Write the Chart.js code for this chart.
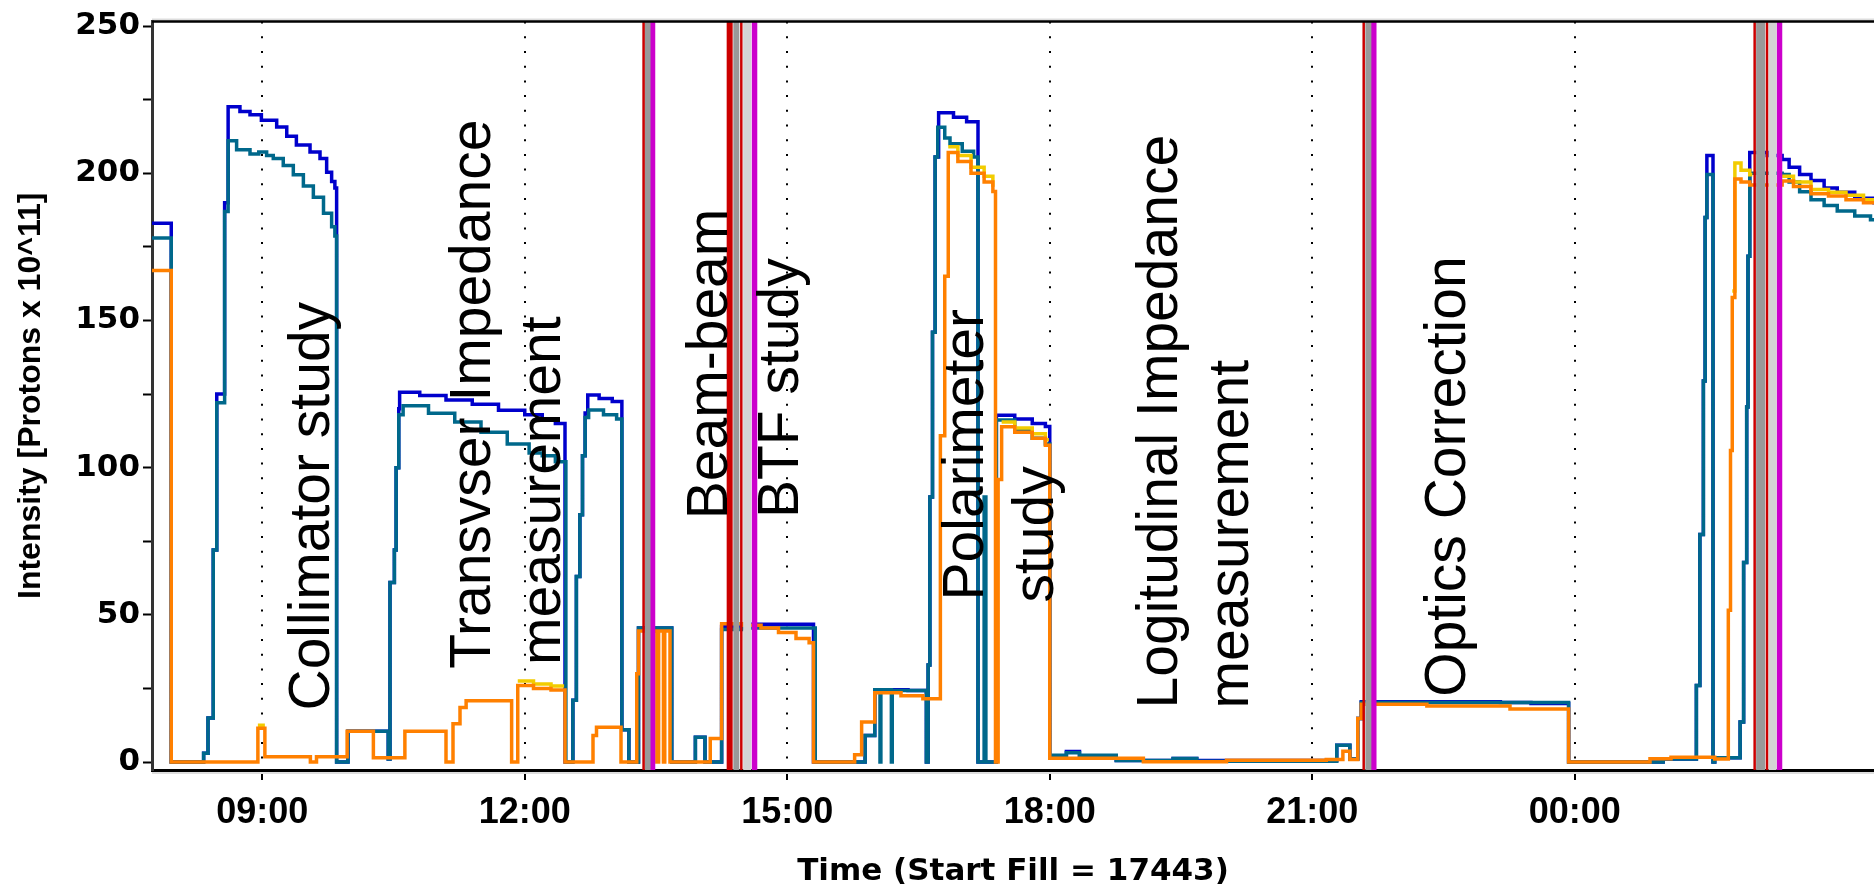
<!DOCTYPE html>
<html>
<head>
<meta charset="utf-8">
<title>Fill 17443 intensity</title>
<script src="https://cdn.jsdelivr.net/npm/chart.js@4.4.1/dist/chart.umd.min.js"></script>
<style>
  html, body { margin: 0; padding: 0; background: #fff; }
  #wrap { width: 1874px; height: 886px; }
</style>
</head>
<body>
<div id="wrap"><canvas id="intensityChart" width="1874" height="886"></canvas></div>
<script>
// Time is in hours from midnight of the day the fill started (24+ = next day)
const xMin = 7.74;
const xMax = 27.42;
const yMin = -2.7;
const yMax = 251.5;

const tickHours = [9, 12, 15, 18, 21, 24];
const tickLabels = ['09:00', '12:00', '15:00', '18:00', '21:00', '00:00'];
const yTickValues = [0, 25, 50, 75, 100, 125, 150, 175, 200, 225, 250];
const yTickLabels = ['0', '', '50', '', '100', '', '150', '', '200', '', '250'];

// Each pair: [time, intensity from that time on]
const seriesBlue = [
    [7.74, 183], [7.96, 0], [8.33, 3], [8.38, 15], [8.44, 72], [8.48, 125], [8.57, 190], [8.61, 222.6],
    [8.745, 221], [8.86, 219.9], [8.99, 218], [9.165, 215.7], [9.28, 212.6], [9.39, 209.6],
    [9.546, 207.2], [9.66, 205], [9.736, 200.3], [9.793, 197.2], [9.83, 195], [9.85, 0],
    [9.98, 10.5], [10.44, 1],
    [10.46, 61], [10.51, 72], [10.53, 100], [10.56, 120], [10.57, 125.6], [10.8, 124.5], [11.1, 123],
    [11.4, 121.5], [11.7, 119.5], [12.0, 118], [12.2, 116.5], [12.35, 115], [12.46, 0],
    [12.55, 21], [12.59, 63], [12.63, 84], [12.66, 104], [12.69, 118.6], [12.72, 124.7], [12.85, 123.5],
    [13.0, 122.5], [13.11, 11], [13.19, 0], [13.3, 45.5], [13.68, 0], [13.95, 8.4], [14.06, 0],
    [14.25, 46], [14.48, 46.8], [15.3, 0], [15.89, 9], [16.0, 24.6], [16.38, 24.3], [16.59, 0],
    [16.61, 33], [16.63, 90], [16.66, 146], [16.69, 205.5], [16.73, 220.5], [16.9, 219], [17.05, 217.5],
    [17.18, 0], [17.39, 117.8], [17.6, 116.5], [17.8, 115], [17.95, 114], [18.0, 2], [18.19, 3.6],
    [18.34, 2], [18.76, 0.5], [19.41, 1.2], [19.68, 0.5], [21.28, 5.7], [21.43, 1], [21.52, 14.8],
    [21.56, 20.5], [23.15, 20.2], [23.5, 19.9], [23.93, 0], [25.01, 1], [25.39, 26], [25.43, 77.3],
    [25.47, 129.4], [25.49, 185], [25.51, 206], [25.58, 0], [25.6, 1.5], [25.89, 13.6], [25.93, 67.8],
    [25.965, 120.6], [25.98, 171.8], [26.0, 207], [26.2, 206], [26.37, 204.7], [26.45, 202],
    [26.57, 199.6], [26.7, 197.5], [26.85, 195], [27.0, 193.5], [27.2, 191.5], [27.42, 189.4]
];

const seriesTeal = [
    [7.74, 178], [7.96, 0], [8.33, 3], [8.38, 15], [8.44, 72], [8.48, 122], [8.57, 187], [8.61, 211],
    [8.707, 208], [8.86, 206.5], [8.96, 207.2], [9.05, 206], [9.126, 205], [9.24, 202.6],
    [9.355, 199.5], [9.47, 195.7], [9.584, 191.8], [9.7, 186.4], [9.793, 181.8], [9.83, 178.7],
    [9.85, 0], [9.98, 10.5], [10.44, 1], [10.46, 61],
    [10.51, 72], [10.53, 100], [10.56, 118], [10.61, 121], [10.9, 118.5], [11.2, 115.5], [11.5, 112],
    [11.8, 108], [12.05, 105], [12.2, 104], [12.35, 102], [12.47, 0], [12.55, 21], [12.59, 63],
    [12.63, 84], [12.66, 104], [12.69, 117], [12.73, 119.6], [12.9, 118], [13.05, 116.5], [13.11, 11],
    [13.19, 0], [13.3, 45.5], [13.68, 0], [13.95, 8.4], [14.06, 0], [14.25, 45], [14.48, 45.5],
    [15.32, 0], [15.89, 9], [16.0, 24.6], [16.06, 0], [16.07, 24.6], [16.19, 0], [16.2, 24.3],
    [16.59, 0], [16.61, 33], [16.63, 90], [16.66, 146], [16.69, 205.5], [16.72, 215.6], [16.8, 212],
    [16.86, 210], [17.0, 207.5], [17.13, 205.5], [17.18, 0], [17.25, 90], [17.27, 0], [17.39, 116.2],
    [17.6, 113], [17.8, 110], [17.95, 108], [18.0, 2.3], [18.19, 3.2], [18.34, 2.3], [18.76, 0.5],
    [19.41, 1.2], [19.68, 0.3], [21.28, 5.7], [21.43, 1], [21.52, 14.8], [21.56, 20.2], [23.93, 0],
    [25.01, 1], [25.39, 26], [25.43, 77.3], [25.47, 129.4], [25.49, 185], [25.51, 199.6], [25.58, 0],
    [25.6, 1.5], [25.89, 13.6], [25.93, 67.8], [25.965, 120.6], [25.98, 171.8], [26.0, 200],
    [26.37, 199.6], [26.45, 197], [26.57, 193.7], [26.7, 191], [26.85, 189], [27.0, 187.2],
    [27.2, 185.5], [27.38, 184.2], [27.42, 184.2]
];

const seriesOrange = [
    [7.74, 167], [7.96, 0], [8.95, 11.5], [9.03, 1.8], [9.55, 0], [9.62, 1.8], [9.97, 10.5],
    [10.27, 1.5], [10.63, 10.5], [11.1, 0], [11.18, 13], [11.26, 18.5], [11.33, 20.8], [11.85, 0],
    [11.92, 26], [12.1, 25], [12.3, 24.5], [12.46, 0], [12.78, 9], [12.82, 11.8], [13.1, 0],
    [13.28, 30], [13.3, 44.5], [13.51, 0], [13.53, 44.5], [13.585, 0], [13.6, 44.5], [13.66, 0],
    [14.12, 8], [14.25, 47], [14.5, 46.5], [14.7, 45.5], [14.9, 44], [15.1, 42], [15.25, 40.5],
    [15.3, 0], [15.77, 2.5], [15.85, 13.6], [16.0, 23.5], [16.3, 22.5], [16.55, 21.5], [16.75, 110.8],
    [16.8, 165], [16.84, 207], [16.95, 204], [17.1, 200], [17.25, 197], [17.35, 193.8], [17.38, 0],
    [17.41, 96], [17.45, 113.9], [17.6, 112], [17.8, 110], [17.95, 107.6], [18.0, 1.3], [19.07, 0.1],
    [20.02, 0.6], [21.16, 0.9], [21.35, 3.7], [21.43, 0.9], [21.52, 14.8], [21.56, 19.6], [22.31, 19.0],
    [23.26, 18.0], [23.93, 0], [24.86, 1.1], [25.1, 1.6], [25.6, 1.0], [25.755, 51.6], [25.78, 105.8],
    [25.8, 157.8], [25.83, 198], [25.9, 197], [26.0, 196], [26.37, 197.4], [26.5, 195.5], [26.7, 193],
    [26.9, 192.3], [27.1, 191], [27.3, 190], [27.42, 189.4]
];

// second yellow-ring trace, only visible where it peeks above the orange one
const seriesYellow = [
    [8.95, 12.5], [9.03, 12.5], [9.04, null],
    [11.92, 27.5], [12.1, 26.5], [12.3, 25.8], [12.45, 25.8], [12.46, null],
    [16.84, 209], [16.95, 206], [17.1, 202], [17.25, 199], [17.35, 196], [17.37, 196], [17.38, null],
    [17.45, 115.5], [17.6, 113.5], [17.8, 111.5], [17.95, 109.5], [17.99, 109.5], [18.0, null],
    [25.8, 160], [25.83, 203.5], [25.9, 201], [26.0, 199.5], [26.03, 199.5], [26.04, null],
    [26.37, 199], [26.5, 197], [26.7, 194.5], [26.9, 193.5], [27.1, 192.5], [27.3, 191], [27.42, 190.5]
];

// Event markers (abort / injection lines)
const bandTimes = [13.358, 13.403, 13.46, 14.342, 14.418, 14.475, 14.542, 14.626,
    21.588, 21.641, 21.703, 26.056, 26.124, 26.197, 26.26, 26.34];
const bandKinds = ['red', 'gray', 'magenta', 'redWide', 'gray', 'red', 'light', 'magenta',
    'red', 'gray', 'magenta', 'red', 'grayWide', 'red', 'light', 'magenta'];

// Study labels
const noteText = ['Collimator study', 'Transvser Impedance', 'measurement', 'Beam-beam', 'BTF study',
    'Polarimeter', 'study', 'Logitudinal Impedance', 'measurement', 'Optics Correction'];
const noteTime = [9.76, 11.603, 12.403, 14.31, 15.123, 17.237, 18.037, 19.454, 20.266, 22.746];
const noteLevel = [17.5, 31.7, 33, 82.5, 82.9, 54.9, 54.2, 18.2, 18.2, 22.2];

const bandStyle = {
    red: ['#cc0000', 2.5],
    redWide: ['#cc0000', 6],
    gray: ['#999999', 6],
    grayWide: ['#999999', 9],
    light: ['#d3d3d3', 8],
    magenta: ['#cc00cc', 5.5]
};

function toPoints(pairs) {
    return pairs.map(p => ({ x: p[0], y: p[1] }));
}

function traceDataset(label, pairs, color) {
    return {
        label: label,
        data: toPoints(pairs),
        borderColor: color,
        borderWidth: 3.5,
        stepped: true,
        pointRadius: 0,
        fill: false
    };
}

const bandDatasets = bandTimes.map((t, i) => ({
    label: 'marker ' + i,
    data: [{ x: t, y: yMin }, { x: t, y: yMax }],
    borderColor: bandStyle[bandKinds[i]][0],
    borderWidth: bandStyle[bandKinds[i]][1],
    pointRadius: 0,
    fill: false,
    clip: 0
}));

// Draw the rotated study labels at data positions
const notesPlugin = {
    id: 'notes',
    afterDatasetsDraw(chart) {
        const ctx = chart.ctx;
        const xs = chart.scales.x;
        const ys = chart.scales.y;
        ctx.save();
        ctx.fillStyle = '#000';
        ctx.font = '57px "Liberation Sans", Arial, sans-serif';
        ctx.textAlign = 'left';
        ctx.textBaseline = 'alphabetic';
        noteText.forEach((txt, i) => {
            ctx.save();
            ctx.translate(xs.getPixelForValue(noteTime[i]), ys.getPixelForValue(noteLevel[i]));
            ctx.rotate(-Math.PI / 2);
            ctx.fillText(txt, 0, 0);
            ctx.restore();
        });
        ctx.restore();
    }
};

// Top frame line (the plot is open on the right)
const framePlugin = {
    id: 'frame',
    afterDraw(chart) {
        const ctx = chart.ctx;
        const a = chart.chartArea;
        ctx.save();
        ctx.strokeStyle = '#dddddd';
        ctx.lineWidth = 2;
        ctx.beginPath();
        ctx.moveTo(a.left, a.top - 2);
        ctx.lineTo(a.right, a.top - 2);
        ctx.moveTo(a.left, a.bottom + 3);
        ctx.lineTo(a.right, a.bottom + 3);
        ctx.stroke();
        ctx.strokeStyle = '#000';
        ctx.lineWidth = 2.5;
        ctx.beginPath();
        ctx.moveTo(a.left, a.top);
        ctx.lineTo(a.right, a.top);
        ctx.stroke();
        ctx.restore();
    }
};

Chart.defaults.font.family = '"DejaVu Sans", sans-serif';
Chart.defaults.color = '#000';

new Chart(document.getElementById('intensityChart'), {
    type: 'line',
    data: {
        datasets: bandDatasets.concat([
            traceDataset('Yellow A', seriesOrange, '#ff8000'),
            traceDataset('Yellow B', seriesYellow, '#f2cc00'),
            traceDataset('Blue B', seriesTeal, '#00688b'),
            traceDataset('Blue A', seriesBlue, '#0000cc')
        ])
    },
    options: {
        responsive: false,
        animation: false,
        devicePixelRatio: 1,
        layout: { padding: { top: 17, left: 0, right: 0, bottom: 0 } },
        plugins: {
            legend: { display: false },
            tooltip: { enabled: false }
        },
        scales: {
            x: {
                type: 'linear',
                min: xMin,
                max: xMax,
                afterBuildTicks: s => { s.ticks = tickHours.map(v => ({ value: v })); },
                afterFit: s => { s.height = 116; },
                ticks: {
                    callback: (v, i) => tickLabels[i],
                    autoSkip: false,
                    maxRotation: 0,
                    padding: 11,
                    font: { family: '"Liberation Sans", Arial, sans-serif', size: 36, weight: 'bold' },
                    color: '#000'
                },
                grid: {
                    color: '#000',
                    lineWidth: 2,
                    tickLength: 10,
                    tickWidth: 2,
                    tickColor: '#000',
                    tickBorderDash: []
                },
                border: { display: true, color: '#000', width: 3, dash: [2, 12.7] },
                title: {
                    display: true,
                    text: 'Time (Start Fill = 17443)',
                    font: { size: 31, weight: 'bold', lineHeight: 1.0 },
                    color: '#000',
                    padding: { top: 0, bottom: -1 }
                }
            },
            y: {
                min: yMin,
                max: yMax,
                afterBuildTicks: s => { s.ticks = yTickValues.map(v => ({ value: v })); },
                afterFit: s => { s.width = 152; },
                ticks: {
                    callback: (v, i) => yTickLabels[i],
                    autoSkip: false,
                    padding: 3,
                    font: { size: 31, weight: 'bold' },
                    color: '#000'
                },
                grid: {
                    drawOnChartArea: false,
                    tickLength: 9,
                    tickWidth: 2,
                    tickColor: '#000'
                },
                border: { display: true, color: '#333', width: 3 },
                title: {
                    display: true,
                    text: 'Intensity [Protons x 10^11]',
                    font: { family: '"Liberation Sans", Arial, sans-serif', size: 32, weight: 'bold' },
                    color: '#000',
                    padding: { top: 12, bottom: 0 }
                }
            }
        }
    },
    plugins: [notesPlugin, framePlugin]
});
</script>
</body>
</html>
